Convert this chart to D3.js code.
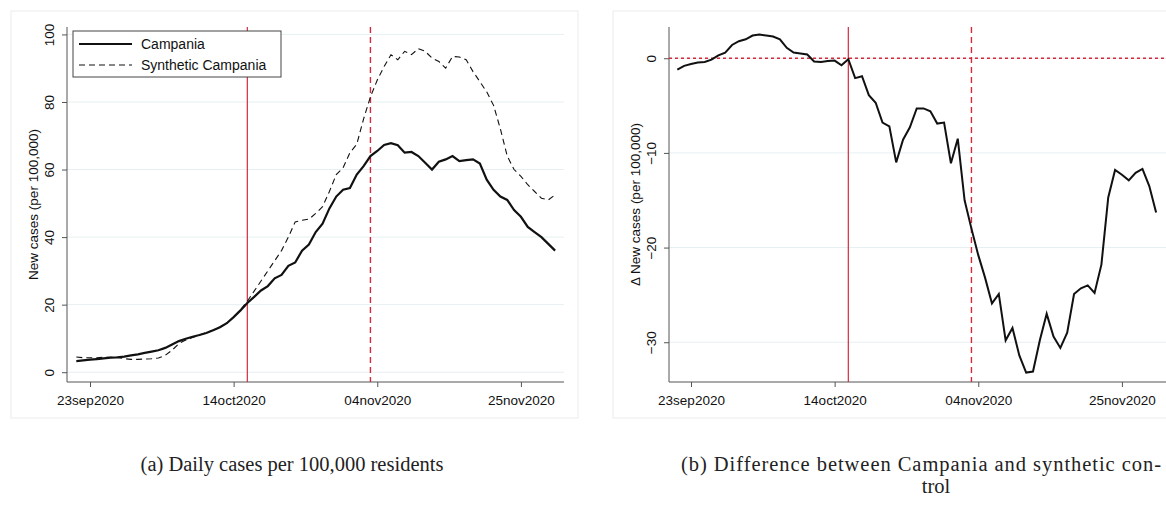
<!DOCTYPE html>
<html>
<head>
<meta charset="utf-8">
<script src="https://cdn.jsdelivr.net/npm/d3@7.9.0/dist/d3.min.js"></script>
<style>
  body { margin: 0; background: #fff; }
  svg text { font-family: "Liberation Sans", Arial, sans-serif; }
  .caption { font-family: "Liberation Serif", serif; font-size: 20.5px; fill: #222; }
</style>
</head>
<body>
<svg id="chart" width="1166" height="506"></svg>
<script>
// daily series, starting 21sep2020
const startDate = new Date(2020, 8, 21);
const campania = [3.3, 3.5, 3.7, 3.9, 4.1, 4.3, 4.4, 4.6, 5.0, 5.3, 5.7, 6.1, 6.5, 7.2, 8.2, 9.2, 9.9, 10.5, 11.0, 11.6,
  12.4, 13.3, 14.5, 16.3, 18.3, 20.5, 22.3, 24.2, 25.5, 27.8, 28.8, 31.5, 32.5, 36.0, 37.8, 41.5, 44.0, 48.5, 52, 54,
  54.5, 58.5, 61, 64, 65.5, 67.3, 67.8, 67.2, 65, 65.2, 64, 62, 60, 62.3, 63, 64, 62.5, 62.8, 63, 61.8,
  57, 54, 52, 51, 48, 46, 43, 41.5, 40, 38, 36];
const synthetic = [4.5, 4.3, 4.3, 4.3, 4.4, 4.4, 4.4, 4.0, 3.8, 3.8, 3.9, 4.0, 4.2, 5.0, 6.5, 8.5, 9.5, 10.3, 11.0, 11.7,
  12.5, 13.4, 14.5, 16.3, 18.5, 21, 24, 27, 30, 33, 36, 40, 44.5, 45, 45.3, 47, 49, 53.5, 58.5, 60.5,
  65, 67.5, 75, 81.5, 86.5, 90.5, 94, 92.5, 95, 94, 95.8, 95, 93, 92, 90, 93.5, 93.3, 92.5, 89, 86,
  83, 79, 72, 64, 60, 58, 55.5, 53.5, 51.5, 51, 52.5];
const difference = [-1.2, -0.8, -0.6, -0.45, -0.4, -0.15, 0.3, 0.6, 1.4, 1.8, 2.0, 2.4, 2.5, 2.4, 2.3, 2.0, 1.1, 0.6, 0.5, 0.4,
  -0.35, -0.4, -0.3, -0.25, -0.75, -0.1, -2.1, -1.9, -3.9, -4.7, -6.8, -7.2, -11, -8.6, -7.3, -5.3, -5.3, -5.6, -6.9, -6.8,
  -11.1, -8.5, -15, -18, -20.8, -23.2, -25.9, -24.9, -29.8, -28.5, -31.4, -33.2, -33.1, -29.8, -27, -29.4, -30.6, -29, -24.9, -24.3,
  -24, -24.8, -21.8, -14.7, -11.8, -12.3, -12.9, -12.1, -11.7, -13.5, -16.3];
const dateTicks = [new Date(2020, 8, 23), new Date(2020, 9, 14), new Date(2020, 10, 4), new Date(2020, 10, 25)];
const treatDate = new Date(2020, 9, 16);
const secondDate = new Date(2020, 10, 3);
const leftTicks = [0, 20, 40, 60, 80, 100];
const rightTicks = [0, -10, -20, -30];

const dates = campania.map((_, i) => d3.timeDay.offset(startDate, i));
const fmt = d => d3.timeFormat("%d%b%Y")(d).toLowerCase();
const red = "#d42a3c";
const svg = d3.select("#chart");

function panel(o) {
  const g = svg.append("g");
  g.append("rect").attr("x", o.frame[0]).attr("y", 11).attr("width", o.frame[1] - o.frame[0])
    .attr("height", 407).attr("fill", "none").attr("stroke", "#ececec");

  // x scale anchored on the 23sep and 25nov ticks
  const x = d3.scaleTime().domain([dateTicks[0], dateTicks[3]]).range([o.tick0, o.tick0 + 63 * 6.84]);
  const y = d3.scaleLinear().domain(o.ydom).range([382, 27]);

  // grid
  g.selectAll(".grid").data(o.ticks).join("line")
    .attr("x1", o.left).attr("x2", o.right).attr("y1", d => y(d)).attr("y2", d => y(d))
    .attr("stroke", "#e6eff1").attr("stroke-width", 1);

  // axes
  const xa = g.append("g").attr("transform", "translate(0,382)")
    .call(d3.axisBottom(x).tickValues(dateTicks).tickFormat(fmt).tickSize(5).tickSizeOuter(0));
  xa.select(".domain").attr("d", `M${o.left},0H${o.right}`).attr("stroke", "#555");
  xa.selectAll(".tick line").attr("stroke", "#555");
  xa.selectAll("text").attr("font-size", 13.5).attr("fill", "#111").attr("dy", "1.1em");

  const ya = g.append("g").attr("transform", `translate(${o.left},0)`)
    .call(d3.axisLeft(y).tickValues(o.ticks).tickSize(5).tickSizeOuter(0));
  ya.select(".domain").attr("d", "M0,27V382").attr("stroke", "#555");
  ya.selectAll(".tick line").attr("stroke", "#555");
  ya.selectAll(".tick text").attr("font-size", 13.5).attr("fill", "#111")
    .attr("transform", "rotate(-90)").attr("x", 0).attr("y", -13).attr("dy", 0)
    .attr("text-anchor", "middle");

  g.append("text").attr("transform", `translate(${o.left - 29},${(27 + 382) / 2}) rotate(-90)`)
    .attr("text-anchor", "middle").attr("font-size", 13.5).attr("fill", "#111").text(o.ylabel);

  if (o.zeroLine) {
    g.append("line").attr("x1", o.left).attr("x2", o.right).attr("y1", y(0)).attr("y2", y(0))
      .attr("stroke", red).attr("stroke-width", 1.6).attr("stroke-dasharray", "3,3");
  }

  // vertical event lines
  g.append("line").attr("x1", x(treatDate)).attr("x2", x(treatDate)).attr("y1", 27).attr("y2", 382)
    .attr("stroke", red).attr("stroke-width", 1.2);
  g.append("line").attr("x1", x(secondDate)).attr("x2", x(secondDate)).attr("y1", 27).attr("y2", 382)
    .attr("stroke", red).attr("stroke-width", 1.4).attr("stroke-dasharray", "6,4");

  const line = d3.line().x((d, i) => x(dates[i])).y(d => y(d));
  o.series.forEach(s => {
    g.append("path").datum(s.values).attr("d", line).attr("fill", "none")
      .attr("stroke", "#111").attr("stroke-width", s.width).attr("stroke-dasharray", s.dash);
  });
}

panel({
  frame: [11, 578], left: 67, right: 564, tick0: 90, ydom: [-2.9, 102.2], ticks: leftTicks,
  ylabel: "New cases (per 100,000)",
  series: [
    { values: synthetic, width: 1.1, dash: "6,4" },
    { values: campania, width: 2.2, dash: null }
  ]
});

// legend
const lg = svg.append("g");
lg.append("rect").attr("x", 73).attr("y", 31).attr("width", 208).attr("height", 46)
  .attr("fill", "#fff").attr("stroke", "#444");
lg.append("line").attr("x1", 79).attr("x2", 132).attr("y1", 44).attr("y2", 44).attr("stroke", "#111").attr("stroke-width", 2.2);
lg.append("line").attr("x1", 79).attr("x2", 132).attr("y1", 65).attr("y2", 65).attr("stroke", "#111").attr("stroke-width", 1.1).attr("stroke-dasharray", "6,4");
lg.append("text").attr("x", 141).attr("y", 49).attr("font-size", 14).attr("fill", "#111").text("Campania");
lg.append("text").attr("x", 141).attr("y", 70).attr("font-size", 14).attr("fill", "#111").text("Synthetic Campania");

panel({
  frame: [613, 1180], left: 669, right: 1166, tick0: 691, ydom: [-34.2, 3.3], ticks: rightTicks,
  ylabel: "Δ New cases (per 100,000)", zeroLine: true,
  series: [{ values: difference, width: 2, dash: null }]
});

// captions
svg.append("text").attr("class", "caption").attr("x", 292).attr("y", 471).attr("text-anchor", "middle")
  .text("(a) Daily cases per 100,000 residents");
svg.append("text").attr("class", "caption").attr("x", 681).attr("y", 471)
  .attr("textLength", 480).attr("lengthAdjust", "spacing")
  .text("(b) Difference between Campania and synthetic con-");
svg.append("text").attr("class", "caption").attr("x", 936).attr("y", 493).attr("text-anchor", "middle")
  .text("trol");
</script>
</body>
</html>
